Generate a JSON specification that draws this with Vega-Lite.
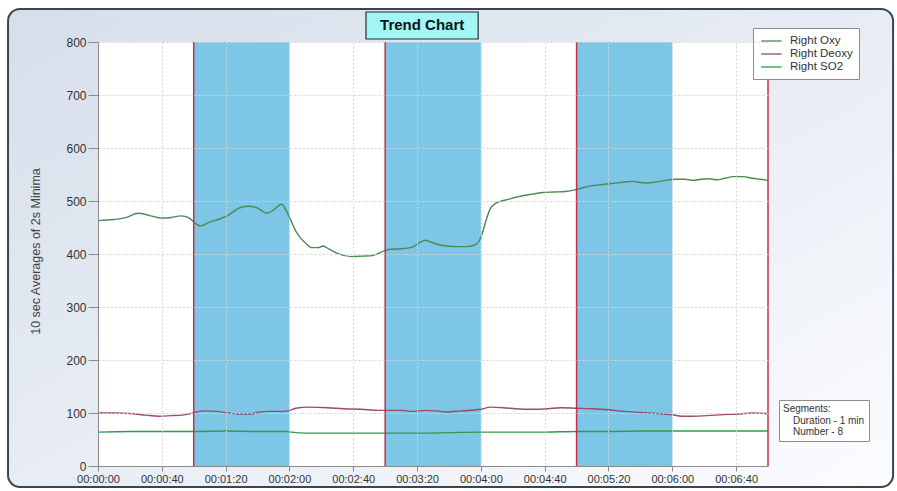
{
  "$schema": "https://vega.github.io/schema/vega-lite/v6.json",
  "width": 670,
  "height": 424,
  "autosize": {"type": "none"},
  "padding": {"left": 98, "top": 42, "right": 129, "bottom": 25},
  "background": "white",
  "config": {
    "view": {"stroke": null},
    "font": "Liberation Sans",
    "axis": {
      "grid": true,
      "gridColor": "#d4d4d4",
      "gridDash": [2, 2],
      "gridWidth": 1,
      "domainColor": "#8a8a8a",
      "tickColor": "#8a8a8a",
      "labelColor": "#333333",
      "labelFont": "Liberation Sans",
      "titleFont": "Liberation Sans"
    }
  },
  "datasets": {
    "trend": [
      {"t": 0, "series": "Right Oxy", "v": 463}, {"t": 10, "series": "Right Oxy", "v": 465},
      {"t": 18, "series": "Right Oxy", "v": 469}, {"t": 25, "series": "Right Oxy", "v": 477},
      {"t": 32, "series": "Right Oxy", "v": 473}, {"t": 39, "series": "Right Oxy", "v": 468},
      {"t": 46, "series": "Right Oxy", "v": 469}, {"t": 52, "series": "Right Oxy", "v": 472},
      {"t": 57, "series": "Right Oxy", "v": 468}, {"t": 61, "series": "Right Oxy", "v": 458},
      {"t": 64, "series": "Right Oxy", "v": 453}, {"t": 70, "series": "Right Oxy", "v": 460},
      {"t": 77, "series": "Right Oxy", "v": 467}, {"t": 82, "series": "Right Oxy", "v": 474},
      {"t": 88, "series": "Right Oxy", "v": 486}, {"t": 94, "series": "Right Oxy", "v": 490},
      {"t": 99, "series": "Right Oxy", "v": 488}, {"t": 106, "series": "Right Oxy", "v": 477},
      {"t": 110, "series": "Right Oxy", "v": 483}, {"t": 115, "series": "Right Oxy", "v": 494},
      {"t": 118, "series": "Right Oxy", "v": 482}, {"t": 121, "series": "Right Oxy", "v": 463},
      {"t": 124, "series": "Right Oxy", "v": 443}, {"t": 127, "series": "Right Oxy", "v": 430},
      {"t": 130, "series": "Right Oxy", "v": 421}, {"t": 134, "series": "Right Oxy", "v": 412},
      {"t": 138, "series": "Right Oxy", "v": 412}, {"t": 141, "series": "Right Oxy", "v": 415},
      {"t": 145, "series": "Right Oxy", "v": 409}, {"t": 150, "series": "Right Oxy", "v": 401},
      {"t": 159, "series": "Right Oxy", "v": 395}, {"t": 166, "series": "Right Oxy", "v": 396},
      {"t": 172, "series": "Right Oxy", "v": 397}, {"t": 178, "series": "Right Oxy", "v": 404},
      {"t": 183, "series": "Right Oxy", "v": 409}, {"t": 190, "series": "Right Oxy", "v": 410},
      {"t": 196, "series": "Right Oxy", "v": 412}, {"t": 200, "series": "Right Oxy", "v": 418},
      {"t": 205, "series": "Right Oxy", "v": 426}, {"t": 210, "series": "Right Oxy", "v": 421},
      {"t": 216, "series": "Right Oxy", "v": 416}, {"t": 224, "series": "Right Oxy", "v": 414},
      {"t": 231, "series": "Right Oxy", "v": 414}, {"t": 236, "series": "Right Oxy", "v": 417},
      {"t": 239, "series": "Right Oxy", "v": 425}, {"t": 241, "series": "Right Oxy", "v": 440},
      {"t": 243, "series": "Right Oxy", "v": 461}, {"t": 246, "series": "Right Oxy", "v": 486},
      {"t": 249, "series": "Right Oxy", "v": 495}, {"t": 253, "series": "Right Oxy", "v": 500},
      {"t": 257, "series": "Right Oxy", "v": 503}, {"t": 262, "series": "Right Oxy", "v": 507},
      {"t": 266, "series": "Right Oxy", "v": 510}, {"t": 272, "series": "Right Oxy", "v": 513},
      {"t": 279, "series": "Right Oxy", "v": 516}, {"t": 286, "series": "Right Oxy", "v": 517},
      {"t": 293, "series": "Right Oxy", "v": 518}, {"t": 299, "series": "Right Oxy", "v": 521},
      {"t": 305, "series": "Right Oxy", "v": 526}, {"t": 310, "series": "Right Oxy", "v": 529},
      {"t": 316, "series": "Right Oxy", "v": 531}, {"t": 322, "series": "Right Oxy", "v": 533},
      {"t": 328, "series": "Right Oxy", "v": 535}, {"t": 335, "series": "Right Oxy", "v": 537},
      {"t": 340, "series": "Right Oxy", "v": 535}, {"t": 345, "series": "Right Oxy", "v": 534},
      {"t": 350, "series": "Right Oxy", "v": 536}, {"t": 356, "series": "Right Oxy", "v": 539},
      {"t": 362, "series": "Right Oxy", "v": 541}, {"t": 368, "series": "Right Oxy", "v": 541},
      {"t": 373, "series": "Right Oxy", "v": 539}, {"t": 378, "series": "Right Oxy", "v": 541},
      {"t": 383, "series": "Right Oxy", "v": 542}, {"t": 388, "series": "Right Oxy", "v": 540},
      {"t": 393, "series": "Right Oxy", "v": 543}, {"t": 398, "series": "Right Oxy", "v": 546},
      {"t": 404, "series": "Right Oxy", "v": 546}, {"t": 410, "series": "Right Oxy", "v": 543},
      {"t": 415, "series": "Right Oxy", "v": 541}, {"t": 420, "series": "Right Oxy", "v": 539},

      {"t": 0, "series": "Right Deoxy", "v": 100}, {"t": 10, "series": "Right Deoxy", "v": 100},
      {"t": 20, "series": "Right Deoxy", "v": 99}, {"t": 30, "series": "Right Deoxy", "v": 96},
      {"t": 38, "series": "Right Deoxy", "v": 94}, {"t": 46, "series": "Right Deoxy", "v": 95},
      {"t": 53, "series": "Right Deoxy", "v": 96}, {"t": 58, "series": "Right Deoxy", "v": 99},
      {"t": 62, "series": "Right Deoxy", "v": 102}, {"t": 67, "series": "Right Deoxy", "v": 104},
      {"t": 74, "series": "Right Deoxy", "v": 103}, {"t": 82, "series": "Right Deoxy", "v": 100},
      {"t": 88, "series": "Right Deoxy", "v": 98}, {"t": 96, "series": "Right Deoxy", "v": 98},
      {"t": 100, "series": "Right Deoxy", "v": 101}, {"t": 107, "series": "Right Deoxy", "v": 103},
      {"t": 114, "series": "Right Deoxy", "v": 103}, {"t": 119, "series": "Right Deoxy", "v": 104},
      {"t": 124, "series": "Right Deoxy", "v": 109}, {"t": 132, "series": "Right Deoxy", "v": 111},
      {"t": 144, "series": "Right Deoxy", "v": 110}, {"t": 154, "series": "Right Deoxy", "v": 108},
      {"t": 165, "series": "Right Deoxy", "v": 107}, {"t": 176, "series": "Right Deoxy", "v": 105},
      {"t": 184, "series": "Right Deoxy", "v": 105}, {"t": 190, "series": "Right Deoxy", "v": 105},
      {"t": 197, "series": "Right Deoxy", "v": 103}, {"t": 205, "series": "Right Deoxy", "v": 105},
      {"t": 212, "series": "Right Deoxy", "v": 104}, {"t": 218, "series": "Right Deoxy", "v": 102},
      {"t": 228, "series": "Right Deoxy", "v": 104}, {"t": 240, "series": "Right Deoxy", "v": 107},
      {"t": 246, "series": "Right Deoxy", "v": 111}, {"t": 254, "series": "Right Deoxy", "v": 110},
      {"t": 262, "series": "Right Deoxy", "v": 108}, {"t": 272, "series": "Right Deoxy", "v": 107},
      {"t": 282, "series": "Right Deoxy", "v": 108}, {"t": 290, "series": "Right Deoxy", "v": 110},
      {"t": 300, "series": "Right Deoxy", "v": 109}, {"t": 310, "series": "Right Deoxy", "v": 108},
      {"t": 320, "series": "Right Deoxy", "v": 106}, {"t": 330, "series": "Right Deoxy", "v": 103},
      {"t": 340, "series": "Right Deoxy", "v": 101}, {"t": 350, "series": "Right Deoxy", "v": 99},
      {"t": 359, "series": "Right Deoxy", "v": 97}, {"t": 366, "series": "Right Deoxy", "v": 94},
      {"t": 372, "series": "Right Deoxy", "v": 94}, {"t": 382, "series": "Right Deoxy", "v": 95},
      {"t": 392, "series": "Right Deoxy", "v": 97}, {"t": 402, "series": "Right Deoxy", "v": 98},
      {"t": 410, "series": "Right Deoxy", "v": 100}, {"t": 420, "series": "Right Deoxy", "v": 99},

      {"t": 0, "series": "Right SO2", "v": 64}, {"t": 20, "series": "Right SO2", "v": 65},
      {"t": 40, "series": "Right SO2", "v": 65}, {"t": 60, "series": "Right SO2", "v": 65},
      {"t": 80, "series": "Right SO2", "v": 66}, {"t": 100, "series": "Right SO2", "v": 65},
      {"t": 118, "series": "Right SO2", "v": 65}, {"t": 124, "series": "Right SO2", "v": 63},
      {"t": 135, "series": "Right SO2", "v": 62}, {"t": 160, "series": "Right SO2", "v": 62},
      {"t": 180, "series": "Right SO2", "v": 62}, {"t": 200, "series": "Right SO2", "v": 62},
      {"t": 220, "series": "Right SO2", "v": 63}, {"t": 240, "series": "Right SO2", "v": 64},
      {"t": 260, "series": "Right SO2", "v": 64}, {"t": 280, "series": "Right SO2", "v": 64},
      {"t": 300, "series": "Right SO2", "v": 65}, {"t": 320, "series": "Right SO2", "v": 65},
      {"t": 340, "series": "Right SO2", "v": 66}, {"t": 360, "series": "Right SO2", "v": 66},
      {"t": 380, "series": "Right SO2", "v": 66}, {"t": 400, "series": "Right SO2", "v": 66},
      {"t": 420, "series": "Right SO2", "v": 66}
    ],
    "segments": [
      {"start": 60, "end": 120},
      {"start": 180, "end": 240},
      {"start": 300, "end": 360}
    ],
    "boundaries": [
      {"t": 60}, {"t": 180}, {"t": 300}, {"t": 420}
    ],
    "segmentInfo": [
      {"note": "Duration - 1 min"},
      {"note": "Number - 8"}
    ]
  },
  "layer": [
    {
      "description": "Rounded chart panel behind the plot",
      "data": {"values": [{}]},
      "mark": {
        "type": "rect",
        "clip": false,
        "cornerRadius": 12,
        "stroke": "#3a4552",
        "strokeWidth": 2,
        "fill": {
          "gradient": "linear",
          "x1": 0, "y1": 0, "x2": 1, "y2": 1,
          "stops": [
            {"offset": 0, "color": "#d6deea"},
            {"offset": 0.55, "color": "#e9eef5"},
            {"offset": 1, "color": "#fbfcfe"}
          ]
        }
      },
      "encoding": {
        "x": {
          "datum": -56.4, "type": "quantitative", "title": null,
          "scale": {"domain": [0, 420], "nice": false, "zero": false},
          "axis": {
            "zindex": 1,
            "values": [0, 40, 80, 120, 160, 200, 240, 280, 320, 360, 400],
            "labelExpr": "'00:0' + floor(datum.value / 60) + ':' + (datum.value % 60 < 10 ? '0' : '') + (datum.value % 60)",
            "labelFontSize": 11,
            "labelPadding": 2,
            "labelOverlap": false,
            "tickSize": 5,
            "labelFlush": false
          }
        },
        "x2": {"datum": 498.4},
        "y": {
          "datum": -39.6, "type": "quantitative", "title": "10 sec Averages of 2s Minima",
          "scale": {"domain": [0, 800], "nice": false, "zero": true},
          "axis": {
            "zindex": 1,
            "values": [0, 50, 100, 150, 200, 250, 300, 350, 400, 450, 500, 550, 600, 650, 700, 750, 800],
            "labelFontSize": 12,
            "labelPadding": 2,
            "labelOverlap": false,
            "tickSize": 10,
            "titleFontSize": 12.5,
            "titleFontWeight": "normal",
            "titleColor": "#444444",
            "titleAngle": -90,
            "titleX": -63,
            "titleY": 209,
            "titleAlign": "center",
            "titleBaseline": "middle"
          }
        },
        "y2": {"datum": 862.3}
      }
    },
    {
      "description": "White plotting area",
      "data": {"values": [{}]},
      "mark": {"type": "rect", "fill": "white"},
      "encoding": {
        "x": {"datum": 0, "type": "quantitative", "title": null},
        "x2": {"datum": 420}
      }
    },
    {
      "description": "Shaded one-minute segments",
      "data": {"name": "segments"},
      "mark": {"type": "rect", "fill": "#7ec6e6"},
      "encoding": {
        "x": {"field": "start", "type": "quantitative", "title": null},
        "x2": {"field": "end"}
      }
    },
    {
      "data": {"name": "trend"},
      "mark": {"type": "line", "interpolate": "monotone", "strokeWidth": 1.4},
      "encoding": {
        "x": {
          "field": "t", "type": "quantitative", "title": null,
          "axis": {
            "zindex": 1,
            "values": [0, 40, 80, 120, 160, 200, 240, 280, 320, 360, 400],
            "labelExpr": "'00:0' + floor(datum.value / 60) + ':' + (datum.value % 60 < 10 ? '0' : '') + (datum.value % 60)",
            "labelFontSize": 11,
            "labelPadding": 2,
            "labelOverlap": false,
            "tickSize": 5,
            "labelFlush": false
          }
        },
        "y": {
          "field": "v", "type": "quantitative", "title": "10 sec Averages of 2s Minima",
          "axis": {
            "zindex": 1,
            "values": [0, 50, 100, 150, 200, 250, 300, 350, 400, 450, 500, 550, 600, 650, 700, 750, 800],
            "labelFontSize": 12,
            "labelPadding": 2,
            "labelOverlap": false,
            "tickSize": 10,
            "titleFontSize": 12.5,
            "titleFontWeight": "normal",
            "titleColor": "#444444",
            "titleAngle": -90,
            "titleX": -63,
            "titleY": 209,
            "titleAlign": "center",
            "titleBaseline": "middle"
          }
        },
        "color": {
          "field": "series",
          "type": "nominal",
          "scale": {
            "domain": ["Right Oxy", "Right Deoxy", "Right SO2"],
            "range": ["#4c8a55", "#9b4a6c", "#2f9a4c"]
          },
          "legend": {
            "title": null,
            "orient": "none",
            "legendX": 655,
            "legendY": -14,
            "symbolType": "M-0.8,0H2.6",
            "symbolStrokeWidth": 2,
            "symbolSize": 144,
            "rowPadding": 0,
            "labelFontSize": 11.5,
            "labelColor": "#333333",
            "labelOffset": 17,
            "padding": 6,
            "strokeColor": "#8c8c8c",
            "fillColor": "white"
          }
        },
        "strokeWidth": {
          "field": "series",
          "type": "nominal",
          "scale": {"domain": ["Right Oxy", "Right Deoxy", "Right SO2"], "range": [1.3, 1.3, 1.9]},
          "legend": null
        }
      }
    },
    {
      "description": "Segment boundaries",
      "data": {"name": "boundaries"},
      "mark": {"type": "rule", "color": "#c2304e", "strokeWidth": 1.5},
      "encoding": {
        "x": {"field": "t", "type": "quantitative", "title": null}
      }
    },
    {
      "description": "Chart heading box",
      "data": {"values": [{}]},
      "mark": {"type": "rect", "clip": false, "fill": "#a2f7f5", "stroke": "#2a2a2a", "strokeWidth": 1.2},
      "encoding": {
        "x": {"datum": 168, "type": "quantitative", "title": null},
        "x2": {"datum": 238.3},
        "y": {"datum": 805.7, "type": "quantitative", "title": "10 sec Averages of 2s Minima"},
        "y2": {"datum": 856.6}
      }
    },
    {
      "data": {"values": [{"heading": "Trend Chart"}]},
      "mark": {"type": "text", "clip": false, "font": "Liberation Sans", "fontSize": 15, "fontWeight": "bold", "color": "#111111", "align": "center", "baseline": "middle"},
      "encoding": {
        "text": {"field": "heading"},
        "x": {"datum": 203.2, "type": "quantitative", "title": null},
        "y": {"datum": 831.5, "type": "quantitative", "title": "10 sec Averages of 2s Minima"}
      }
    },
    {
      "description": "Segment summary shown as a legend",
      "data": {"name": "segmentInfo"},
      "mark": {"type": "point", "opacity": 0},
      "encoding": {
        "shape": {
          "field": "note",
          "type": "nominal",
          "scale": {"domain": ["Duration - 1 min", "Number - 8"], "range": ["circle", "circle"]},
          "legend": {
            "title": "Segments:",
            "orient": "none",
            "legendX": 681,
            "legendY": 358,
            "titleFontSize": 10,
            "titleFontWeight": "normal",
            "titleColor": "#333333",
            "titlePadding": 2,
            "labelFontSize": 10,
            "labelColor": "#333333",
            "symbolSize": 36,
            "symbolOpacity": 0,
            "symbolStrokeWidth": 0,
            "labelOffset": 0,
            "rowPadding": 1,
            "padding": 4,
            "strokeColor": "#8c8c8c",
            "fillColor": "white"
          }
        }
      }
    }
  ]
}
